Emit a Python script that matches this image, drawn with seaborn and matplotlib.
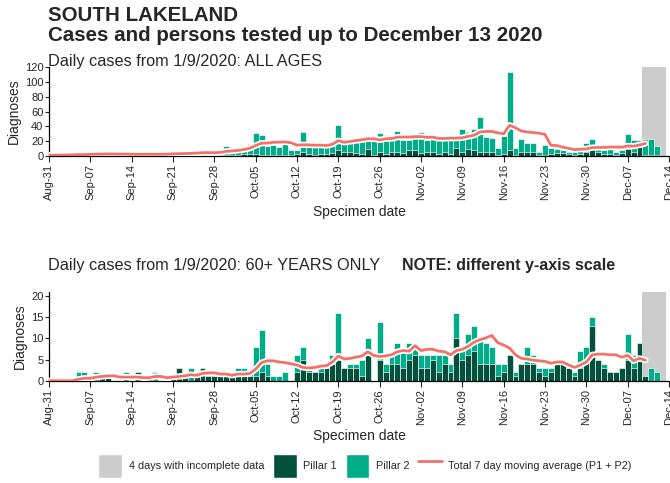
import numpy as np
import pandas as pd
import matplotlib
matplotlib.use("Agg")
import matplotlib.pyplot as plt
import matplotlib.patheffects as pe
from matplotlib.patches import Patch
from matplotlib.lines import Line2D
import seaborn as sns

# Daily diagnoses by specimen date, 31 Aug 2020 .. 13 Dec 2020
start_date = "2020-08-31"

all_pillar1 = [0, 0, 0, 0, 0, 0, 0, 1, 0, 1, 1, 0, 0, 0, 0, 2, 0, 1, 0, 0, 0,
               1, 3, 1, 0, 1, 3, 1, 1, 1, 1, 2, 2, 3, 3, 3, 2, 1, 1, 2, 2, 1,
               3, 5, 3, 2, 3, 3, 4, 8, 6, 5, 4, 3, 9, 2, 6, 3, 5, 5, 4, 8, 8,
               4, 5, 6, 3, 5, 3, 11, 6, 9, 8, 5, 5, 5, 2, 3, 8, 2, 5, 5, 5, 2,
               2, 3, 4, 4, 3, 1, 3, 6, 14, 6, 3, 3, 2, 4, 10, 6, 12, 2, 1, 1, 0]
all_pillar2 = [1, 1, 2, 1, 3, 3, 2, 3, 3, 1, 1, 3, 2, 2, 2, 1, 2, 2, 2, 2, 3,
               5, 1, 2, 5, 3, 3, 3, 4, 6, 12, 6, 8, 11, 13, 28, 27, 13, 14, 10, 14, 7,
               5, 28, 10, 10, 10, 9, 16, 34, 12, 15, 17, 17, 13, 18, 25, 26, 17, 29, 18, 13, 16,
               28, 16, 18, 19, 17, 21, 13, 30, 24, 28, 48, 21, 19, 9, 24, 106, 9, 18, 12, 13, 4,
               13, 8, 5, 4, 2, 5, 7, 12, 9, 5, 5, 6, 4, 4, 20, 15, 10, 21, 22, 13, 0]

over60_pillar1 = [0, 0, 0, 0, 0, 0, 0, 0, 0, 1, 1, 0, 0, 0, 0, 2, 0, 1, 0, 0, 0,
                  1, 3, 1, 0, 1, 3, 1, 1, 1, 1, 1, 1, 1, 1, 1, 2, 1, 0, 0, 0, 0,
                  2, 5, 2, 2, 2, 3, 4, 5, 3, 3, 3, 1, 6, 0, 5, 2, 4, 4, 3, 5, 6,
                  3, 3, 5, 2, 4, 2, 10, 5, 6, 7, 4, 4, 4, 1, 2, 6, 1, 4, 4, 4, 2,
                  1, 2, 4, 4, 3, 1, 3, 5, 13, 5, 3, 2, 2, 3, 5, 3, 9, 1, 0, 0, 0]
over60_pillar2 = [0, 0, 0, 0, 0, 2, 2, 0, 2, 0, 0, 0, 0, 2, 0, 0, 0, 0, 2, 0, 0,
                  0, 0, 0, 3, 0, 0, 0, 0, 0, 0, 0, 2, 2, 1, 7, 10, 3, 1, 1, 2, 0,
                  4, 3, 1, 0, 1, 0, 2, 11, 0, 1, 1, 4, 4, 0, 9, 2, 2, 5, 4, 4, 3,
                  3, 3, 1, 4, 2, 2, 6, 3, 5, 6, 6, 5, 4, 3, 2, 0, 1, 0, 4, 2, 1,
                  2, 1, 0, 0, 0, 1, 4, 3, 2, 0, 1, 0, 0, 0, 6, 3, 0, 0, 3, 2, 0]

tick_labels = ["Aug-31", "Sep-07", "Sep-14", "Sep-21", "Sep-28", "Oct-05", "Oct-12",
               "Oct-19", "Oct-26", "Nov-02", "Nov-09", "Nov-16", "Nov-23", "Nov-30",
               "Dec-07", "Dec-14"]
incomplete_days = 4

DARK = "#03513D"
TEAL = "#00AD8A"
GREY = "#CCCCCC"
LINE = "#F4716A"

sns.set_style("ticks")
plt.rcParams["font.family"] = ["Liberation Sans", "DejaVu Sans"]

dates = pd.date_range(start_date, periods=len(all_pillar1))
day = np.arange(len(dates))
n = len(day)


def draw_panel(ax, p1, p2, ymax, yticks):
    df = pd.DataFrame({"day": day, "p1": p1,
                       "total": np.asarray(p1) + np.asarray(p2)})
    ax.axvspan(n - incomplete_days - 0.5, n - 0.5, color=GREY, lw=0, zorder=0)
    common = dict(x="day", native_scale=True, width=1, saturation=1,
                  edgecolor="white", linewidth=0.45, errorbar=None, ax=ax)
    sns.barplot(data=df, y="total", color=TEAL, **common)
    sns.barplot(data=df, y="p1", color=DARK, **common)
    avg = df["total"].rolling(7, min_periods=1).mean()
    shown = df["day"] <= n - incomplete_days
    sns.lineplot(x=df["day"][shown], y=avg[shown], color=LINE, lw=2.0, ax=ax,
                 zorder=3, path_effects=[pe.withStroke(linewidth=4.5, foreground="white")])
    ax.set_xlim(0, 105)
    ax.set_ylim(0, ymax)
    ax.set_yticks(yticks)
    ax.set_xticks(np.arange(0, 106, 7))
    ax.set_xticklabels(tick_labels, rotation=90, fontsize=8)
    ax.tick_params(axis="y", labelsize=8, length=3, width=0.8, pad=1)
    ax.tick_params(axis="x", length=4, width=0.8, pad=2)
    for s in ("top", "right"):
        ax.spines[s].set_visible(False)
    for s in ("left", "bottom"):
        ax.spines[s].set_color("black")
        ax.spines[s].set_linewidth(0.9)
    ax.set_xlabel("Specimen date", fontsize=10, labelpad=3)
    ax.set_ylabel("Diagnoses", fontsize=10, labelpad=3)


fig = plt.figure(figsize=(6.7, 4.83), dpi=100)
ax_top = fig.add_axes([0.0731, 0.677, 0.9254, 0.184])
ax_bot = fig.add_axes([0.0731, 0.2118, 0.9254, 0.1836])

draw_panel(ax_top, all_pillar1, all_pillar2, 120, np.arange(0, 121, 20))
draw_panel(ax_bot, over60_pillar1, over60_pillar2, 21, np.arange(0, 21, 5))

fig.text(0.0716, 0.967, "SOUTH LAKELAND", fontsize=14.8, fontweight="bold", va="center")
fig.text(0.0716, 0.926, "Cases and persons tested up to December 13 2020",
         fontsize=14.8, fontweight="bold", va="center")
fig.text(0.0716, 0.873, "Daily cases from 1/9/2020: ALL AGES", fontsize=11.7, va="center")
fig.text(0.0716, 0.450, "Daily cases from 1/9/2020: 60+ YEARS ONLY", fontsize=11.7, va="center")
fig.text(0.600, 0.450, "NOTE: different y-axis scale", fontsize=11.5,
         fontweight="bold", va="center")

handles = [Patch(facecolor=GREY), Patch(facecolor=DARK), Patch(facecolor=TEAL),
           Line2D([], [], color=LINE, lw=2)]
labels = ["4 days with incomplete data", "Pillar 1", "Pillar 2",
          "Total 7 day moving average (P1 + P2)"]
fig.legend(handles, labels, loc="center", bbox_to_anchor=(0.545, 0.036), ncol=4,
           frameon=False, fontsize=7.8, handlelength=2.2, handleheight=3.0,
           handletextpad=0.6, columnspacing=0.8, borderaxespad=0)

fig.savefig("out.png", dpi=100)
